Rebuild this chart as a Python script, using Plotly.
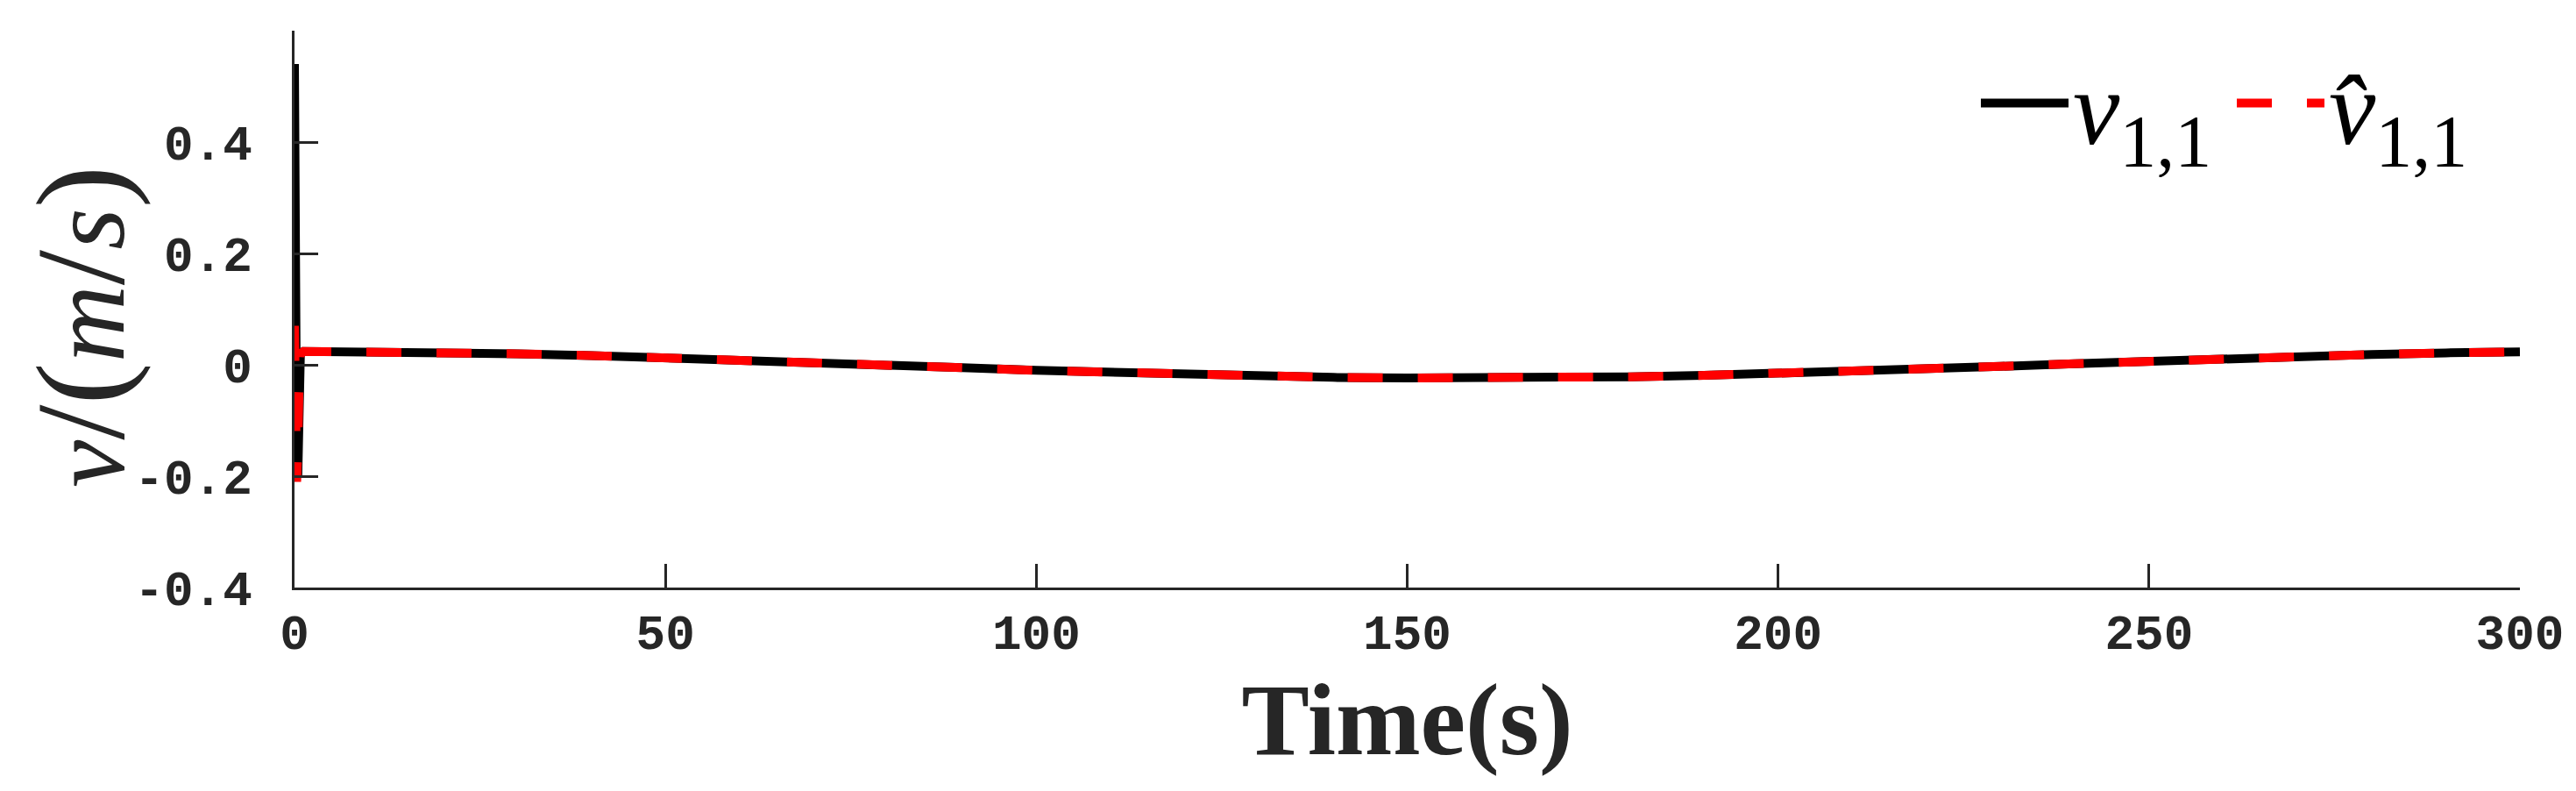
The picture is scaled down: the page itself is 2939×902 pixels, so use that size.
import plotly.graph_objects as go

# ---- data ----
t_spike = [0.0, 0.05, 0.15, 0.3, 0.45, 0.6, 0.8, 1.2]
v_spike = [0.54, 0.25, -0.05, -0.18, -0.20, -0.08, 0.02, 0.024]
vhat_spike = [0.07, 0.0, -0.10, -0.21, -0.15, -0.05, 0.02, 0.024]

t_slow = [10, 20, 30, 40, 50, 60, 70, 80, 90, 100, 110, 120, 130, 140, 150,
          160, 170, 180, 190, 200, 210, 220, 230, 240, 250, 260, 270, 280, 290, 300]
v_slow = [0.0235, 0.022, 0.0198, 0.0167, 0.013, 0.0087, 0.0041, -0.0007, -0.0052,
          -0.0100, -0.0141, -0.0177, -0.0206, -0.0226, -0.0238, -0.0240, -0.0232,
          -0.0215, -0.0190, -0.0157, -0.0118, -0.0074, -0.0028, 0.0019, 0.0068,
          0.0111, 0.0151, 0.0186, 0.0214, 0.0233]
vhat_slow = list(v_slow)

x_ticks = [0, 50, 100, 150, 200, 250, 300]
y_ticks = [-0.4, -0.2, 0, 0.2, 0.4]
y_tick_text = ["-0.4", "-0.2", "0", "0.2", "0.4"]

t_all = t_spike + t_slow
v_all = v_spike + v_slow
vhat_all = vhat_spike + vhat_slow

W, H = 2939, 902
L, R, T, B = 328, 72, 27, 240

fig = go.Figure()
fig.add_trace(go.Scatter(
    x=t_all, y=v_all, mode="lines", name="<i>v</i><sub>1,1</sub>",
    line=dict(color="black", width=10)))
fig.add_trace(go.Scatter(
    x=t_all, y=vhat_all, mode="lines", name="<i>v̂</i><sub>1,1</sub>",
    line=dict(color="red", width=10, dash="40px,40px")))

axis_color = "#262626"
tickfont = dict(family="Liberation Mono", size=56, color=axis_color, weight="bold")
serif = "Liberation Serif, DejaVu Serif, serif"

big = "<span style='font-size:145px'>{}</span>"
ylabel = ("<i>v</i>" + big.format("/") + big.format("(") + "<i>m</i>"
          + big.format("/") + "<i>s</i>" + big.format(")"))

fig.update_layout(
    width=W, height=H,
    margin=dict(l=L, r=R, t=T, b=B, autoexpand=False),
    paper_bgcolor="white", plot_bgcolor="white",
    showlegend=True,
    legend=dict(
        orientation="h", x=(2247 - L) / (W - L - R), y=0.87,
        xanchor="left", yanchor="middle",
        font=dict(family=serif, size=120, color="black"),
        bgcolor="rgba(0,0,0,0)", itemwidth=100, tracegroupgap=0,
        entrywidth=177, entrywidthmode="pixels",
    ),
    xaxis=dict(
        range=[0, 300], tickvals=x_ticks, ticktext=[str(v) for v in x_ticks],
        showgrid=False, zeroline=False, showline=True, linecolor=axis_color,
        linewidth=3, ticks="inside", ticklen=27, tickwidth=3, tickcolor=axis_color,
        tickfont=tickfont, mirror=False,
        title=dict(text="<b>Time(s)</b>", standoff=20,
                   font=dict(family=serif, size=116, color=axis_color)),
    ),
    yaxis=dict(
        range=[-0.4, 0.6], tickvals=y_ticks, ticktext=y_tick_text,
        showgrid=False, zeroline=False, showline=True, linecolor=axis_color,
        linewidth=3, ticks="inside", ticklen=27, tickwidth=3, tickcolor=axis_color,
        tickfont=tickfont, mirror=False, ticklabelstandoff=34,
    ),
    annotations=[dict(
        text=ylabel, textangle=-90,
        xref="paper", yref="paper", x=-(L - 84) / (W - L - R), y=(H - B - 365) / (H - T - B),
        xanchor="center", yanchor="middle", showarrow=False,
        font=dict(family=serif, size=122, color=axis_color),
    )],
)

fig.write_html("out.html")
